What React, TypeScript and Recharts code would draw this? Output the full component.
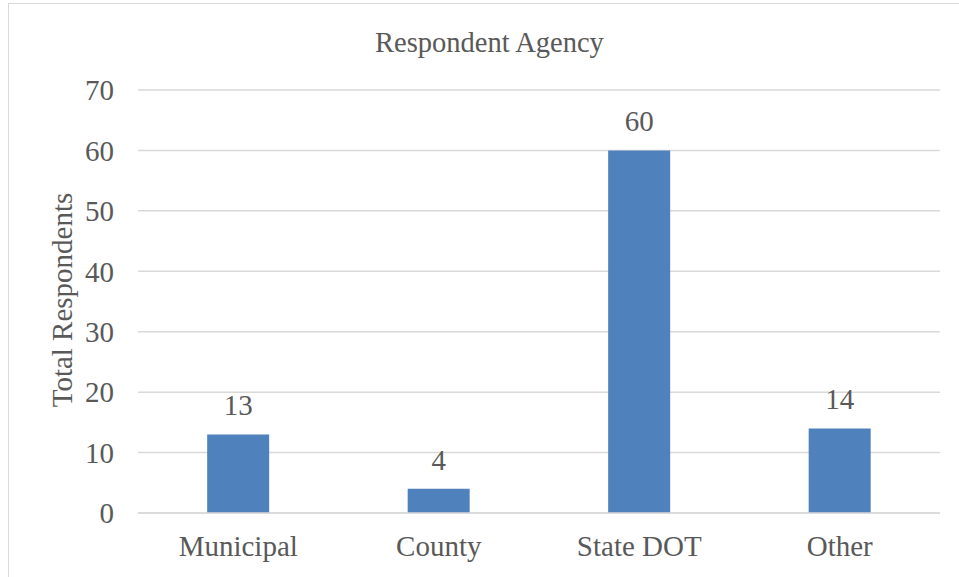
import React from 'react';
import { BarChart, Bar, XAxis, YAxis, CartesianGrid, LabelList, Label } from 'recharts';

const agencies = ['Municipal', 'County', 'State DOT', 'Other'];
const respondents = [13, 4, 60, 14];
const yTicks = [0, 10, 20, 30, 40, 50, 60, 70];

const data = agencies.map((name, i) => ({ name, total: respondents[i] }));

const font = '"Liberation Serif", "Times New Roman", serif';
const textColor = '#595959';

const YTitle = () => (
    <text
        x={62}
        y={300}
        transform="rotate(-90 62 300)"
        textAnchor="middle"
        dominantBaseline="central"
        fill={textColor}
        fontFamily={font}
        fontSize={29}
    >
        Total Respondents
    </text>
);

const App: React.FC = () => {
    return (
        <div style={{ position: 'absolute', left: 0, top: 0, width: 959, height: 577, overflow: 'hidden', background: '#fff' }}>
            <div
                style={{
                    position: 'absolute',
                    left: 8,
                    top: 3,
                    width: 980,
                    height: 600,
                    border: '1.5px solid #d9d9d9',
                    boxSizing: 'border-box',
                }}
            />
            <div
                style={{
                    position: 'absolute',
                    left: 0,
                    top: 28,
                    width: 979,
                    textAlign: 'center',
                    fontFamily: font,
                    fontSize: 28.5,
                    lineHeight: '30px',
                    color: textColor,
                }}
            >
                Respondent Agency
            </div>
            <div style={{ position: 'absolute', left: 0, top: 0 }}>
                <BarChart
                    width={959}
                    height={577}
                    data={data}
                    margin={{ top: 90, right: 19, bottom: 0, left: 0 }}
                    barCategoryGap="34.5%"
                >
                    <CartesianGrid vertical={false} stroke="#d9d9d9" strokeWidth={1.5} />
                    <XAxis
                        dataKey="name"
                        height={64}
                        axisLine={{ stroke: '#d9d9d9', strokeWidth: 1.5 }}
                        tickLine={false}
                        tickSize={0}
                        tickMargin={22}
                        tick={{ fill: textColor, fontFamily: font, fontSize: 29 }}
                    />
                    <YAxis
                        width={138}
                        domain={[0, 70]}
                        ticks={yTicks}
                        axisLine={false}
                        tickLine={false}
                        tickSize={0}
                        tickMargin={24}
                        tick={{ fill: textColor, fontFamily: font, fontSize: 29 }}
                    >
                        <Label content={<YTitle />} />
                    </YAxis>
                    <Bar dataKey="total" fill="#4f81bd" isAnimationActive={false}>
                        <LabelList
                            dataKey="total"
                            position="top"
                            offset={19}
                            fill={textColor}
                            fontFamily={font}
                            fontSize={29}
                        />
                    </Bar>
                </BarChart>
            </div>
        </div>
    );
};

export default App;
